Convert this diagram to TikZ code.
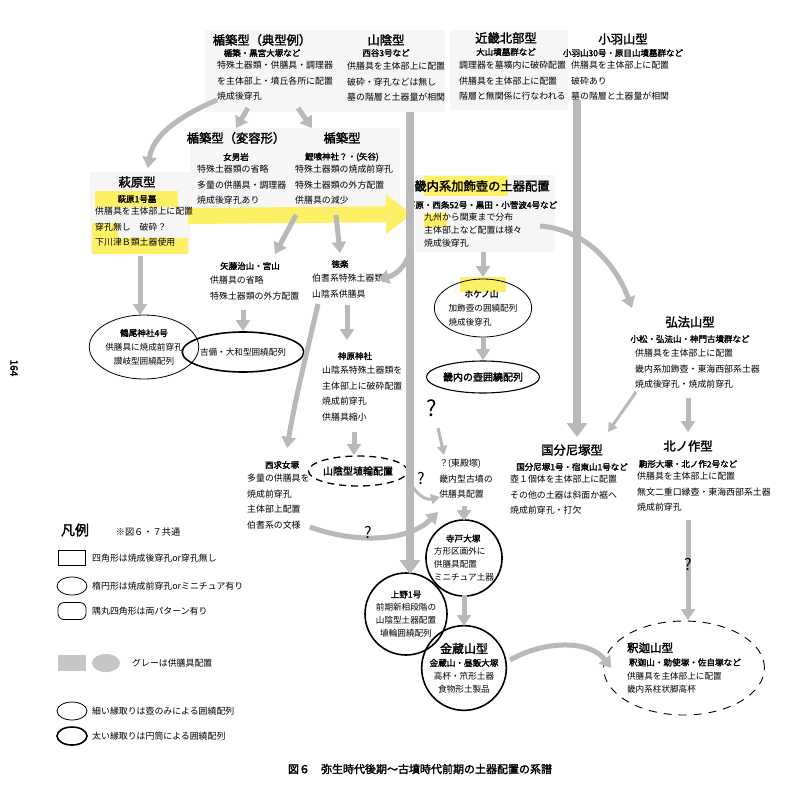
\documentclass[tikz,border=0pt]{standalone}
\usepackage{fontspec}
\setmainfont[AutoFakeBold=2]{Noto Sans CJK JP}
\usetikzlibrary{arrows.meta,shapes.geometric}
\tikzset{
 body/.style={anchor=north west,align=left,inner sep=0pt,font=\fontsize{8.9}{15.5}\selectfont},
 ttl/.style={inner sep=0pt,font=\fontsize{12.3}{13}\selectfont\bfseries},
 sub/.style={inner sep=0pt,font=\fontsize{8.5}{10}\selectfont\bfseries},
 garr/.style={draw=gray!55,line width=5pt,-{Triangle[width=14pt,length=11pt]}},
 tarr/.style={draw=gray!55,line width=3pt,-{Triangle[width=10pt,length=9pt]}},
 bar/.style={draw=gray!55,line width=8pt,-{Triangle[width=20pt,length=14pt]}},
 thinell/.style={draw,ellipse,line width=0.8pt,inner sep=0pt},
 thickell/.style={draw,ellipse,line width=1.6pt,inner sep=0pt},
 shade/.style={fill=gray!7,draw=none},
 hl/.style={fill=yellow!90!orange!60,draw=none},
 qm/.style={font=\fontsize{16}{16}\selectfont},
 inn/.style={font=\fontsize{8.6}{14}\selectfont}
}
\begin{document}
\begin{tikzpicture}[x=1pt,y=-1pt]
\useasboundingbox (0,0) rectangle (785,785);
\fill[white] (0,0) rectangle (785,785);
% grey backgrounds
\fill[shade] (205,30) rectangle (345,112);
\fill[shade] (340,30) rectangle (445,112);
\fill[shade] (450,30) rectangle (568,110);
\fill[shade] (190,128) rectangle (290,212);
\fill[shade] (290,128) rectangle (400,212);
\fill[shade] (415,175) rectangle (555,252);
\fill[shade] (90,172) rectangle (190,252);
% yellow highlights
\fill[hl] (95,191) rectangle (178,207);
\fill[hl] (92,238) rectangle (188,254);
\fill[hl] (92,223) rectangle (118,238);
\fill[hl] (424,176) rectangle (508,196);
\fill[hl] (424,213) rectangle (447,227);
\fill[hl] (460,277) rectangle (506,292);
\draw[line width=16pt,draw=yellow!90!orange!60,-{Triangle[width=38pt,length=26pt]}] (188,216) -- (412,214);
\coordinate (sbtop) at (410,112);
\coordinate (kbtop) at (577,100);
% text blocks
\node[ttl] (tt1) at (262,40) {楯築型（典型例）};
\node[sub] (ts1) at (262,53) {楯築・黒宮大塚など};
\node[body] (tb1) at (217,61) {特殊土器類・供膳具・調理器\\を主体部上・墳丘各所に配置\\焼成後穿孔};
\node[ttl] (tt2) at (386,40) {山陰型};
\node[sub] (ts2) at (386,53) {西谷3号など};
\node[body] (tb2) at (347,62) {供膳具を主体部上に配置\\破砕・穿孔などは無し\\墓の階層と土器量が相関};
\node[ttl] (tt3) at (506,38) {近畿北部型};
\node[sub] (ts3) at (506,52) {大山墳墓群など};
\node[body] (tb3) at (459,61) {調理器を墓壙内に破砕配置\\供膳具を主体部上に配置\\階層と無関係に行なわれる};
\node[ttl] (tt4) at (623,39) {小羽山型};
\node[sub] (ts4) at (623,53) {小羽山30号・原目山墳墓群など};
\node[body] (tb4) at (571,61) {供膳具を主体部上に配置\\破砕あり\\墓の階層と土器量が相関};
\node[ttl] (tt5) at (236,138) {楯築型（変容形）};
\node[sub] (ts5) at (236,157) {女男岩};
\node[body] (tb5) at (197,165) {特殊土器類の省略\\多量の供膳具・調理器\\焼成後穿孔あり};
\node[ttl] (tt6) at (342,138) {楯築型};
\node[sub] (ts6) at (342,157) {鯉喰神社？・(矢谷)};
\node[body] (tb6) at (295,165) {特殊土器類の焼成前穿孔\\特殊土器類の外方配置\\供膳具の減少};
\node[ttl] (tt7) at (137,182) {萩原型};
\node[sub] (ts7) at (137,199) {萩原1号墓};
\node[body] (tb7) at (95,207) {供膳具を主体部上に配置\\穿孔無し　破砕？\\下川津Ｂ類土器使用};
\node[ttl] (tt8) at (482,186) {畿内系加飾壺の土器配置};
\node[sub] (ts8) at (482,205) {下原・西条52号・黒田・小菅波4号など};
\node[body,font=\fontsize{8.9}{13}\selectfont] (tb8) at (424,213) {九州から関東まで分布\\主体部上など配置は様々\\焼成後穿孔};
\node[sub] (ts9) at (250,266) {矢藤治山・宮山};
\node[body] (tb9) at (210,276) {供膳具の省略\\特殊土器類の外方配置};
\node[sub] (ts10) at (340,264) {徳楽};
\node[body] (tb10) at (312,274) {伯耆系特殊土器類\\山陰系供膳具};
\node[sub] (ts11) at (355,356) {神原神社};
\node[body] (tb11) at (322,366) {山陰系特殊土器類を\\主体部上に破砕配置\\焼成前穿孔\\供膳具縮小};
\node[sub] (ts12) at (282,465) {西求女塚};
\node[body] (tb12) at (247,474) {多量の供膳具を\\焼成前穿孔\\主体部上配置\\伯耆系の文様};
\node[body,anchor=north,align=left] (tb13) at (466,459) {？(東殿塚)\\畿内型古墳の\\供膳具配置};
\node[ttl] (tt14) at (690,322) {弘法山型};
\node[sub] (ts14) at (690,339) {小松・弘法山・神門古墳群など};
\node[body] (tb14) at (635,349) {供膳具を主体部上に配置\\畿内系加飾壺・東海西部系土器\\焼成後穿孔・焼成前穿孔};
\node[ttl] (tt15) at (572,450) {国分尼塚型};
\node[sub] (ts15) at (572,467) {国分尼塚1号・宿東山1号など};
\node[body] (tb15) at (510,475) {壺１個体を主体部上に配置\\その他の土器は斜面か裾へ\\焼成前穿孔・打欠};
\node[ttl] (tt16) at (688,446) {北ノ作型};
\node[sub] (ts16) at (688,464) {駒形大塚・北ノ作2号など};
\node[body] (tb16) at (637,472) {供膳具を主体部上に配置\\無文二重口縁壺・東海西部系土器\\焼成前穿孔};
% ellipses
\node[thinell,minimum width=98pt,minimum height=64pt,align=center,inn] (e1) at (144,347) {\textbf{鶴尾神社4号}\\供膳具に焼成前穿孔\\讃岐型囲繞配列};
\node[thickell,minimum width=98pt,minimum height=40pt,inn] (e2) at (243,352) {吉備・大和型囲繞配列};
\node[thinell,minimum width=84pt,minimum height=58pt,align=left,inn] (e3) at (483,308) {\hspace*{16pt}\textbf{ホケノ山}\\加飾壺の囲繞配列\\焼成後穿孔};
\node[thinell,line width=1.1pt,minimum width=80pt,minimum height=32pt,inn,font=\bfseries] (e4) at (483,377) {畿内の壺囲繞配列};
\node[thinell,line width=1.3pt,dash pattern=on 7pt off 5pt,minimum width=70pt,minimum height=30pt,inn,font=\bfseries] (e5) at (358,471) {山陰型埴輪配置};
\node[draw,circle,line width=1.6pt,minimum size=74pt,inner sep=0pt,align=left,font=\fontsize{8.6}{13}\selectfont] (c1) at (464,558) {\hspace*{12pt}\textbf{寺戸大塚}\\方形区画外に\\供膳具配置\\ミニチュア土器};
\node[draw,circle,line width=1.6pt,minimum size=82pt,inner sep=0pt,align=center,font=\fontsize{8.6}{13}\selectfont] (c2) at (406,614) {\textbf{上野1号}\\前期新相段階の\\山陰型土器配置\\埴輪囲繞配列};
\node[draw,circle,line width=1.6pt,minimum size=84pt,inner sep=0pt,align=center,font=\fontsize{8.6}{13}\selectfont] (c3) at (464,668) {{\fontsize{12}{13}\selectfont\bfseries 金蔵山型}\\\textbf{金蔵山・昼飯大塚}\\高杯・笊形土器\\食物形土製品};
\node[draw,ellipse,line width=0.9pt,dash pattern=on 8pt off 7pt,minimum width=144pt,minimum height=94pt,align=left,inner sep=0pt,font=\fontsize{8.6}{13.5}\selectfont] (e6) at (684,668) {{\fontsize{11.5}{13}\selectfont\bfseries 釈迦山型}\\\textbf{ 釈迦山・勅使塚・佐自塚など}\\供膳具を主体部上に配置\\畿内系柱状脚高杯};
% arrows
\draw[bar] (sbtop) -- (410,574);
\draw[bar] (kbtop) -- (577,437);
\draw[garr] (217,100) .. controls (170,120) and (152,140) .. (148,168);
\draw[garr] (248,108) -- (236,128);
\draw[garr] (298,108) -- (312,128);
\draw[garr] (140,256) -- (140,315);
\draw[garr] (296,215) -- (275,254);
\draw[garr] (336,215) -- (340,253);
\draw[garr] (243,310) -- (243,331);
\draw[garr] (347,305) -- (347,340);
\draw[garr] (318,304) .. controls (305,360) and (295,400) .. (287,448);
\draw[garr] (354,432) -- (354,455);
\draw[garr] (410,252) .. controls (405,268) and (395,275) .. (378,280);
\draw[tarr] (412,486) .. controls (420,498) and (428,500) .. (440,497);
\draw[garr] (310,527) .. controls (360,545) and (410,540) .. (438,512);
\draw[tarr] (438,428) -- (444,455);
\draw[garr] (483,252) -- (483,277);
\draw[garr] (483,338) -- (483,360);
\draw[garr] (540,226) .. controls (590,230) and (618,270) .. (632,308);
\draw[tarr] (636,392) -- (608,432);
\draw[garr] (688,398) -- (688,432);
\draw[garr] (688,520) -- (688,620);
\draw[garr] (464,506) -- (464,521);
\draw[garr] (464,595) -- (464,626);
\draw[garr] (510,660) .. controls (545,640) and (590,640) .. (611,668);
% question marks
\node[qm,font=\fontsize{22}{22}\selectfont] (q1) at (432,408) {?};
\node[qm] (q2) at (421,479) {?};
\node[qm] (q3) at (368,532) {?};
\node[qm] (q4) at (688,564) {?};
% legend
\node[font=\fontsize{14}{14}\selectfont\bfseries,inner sep=0pt] (lg) at (75,530) {凡例};
\node[font=\fontsize{9.2}{10}\selectfont,inner sep=0pt] (lgn) at (148,532) {※図６・７共通};
\node[draw,line width=0.8pt,minimum width=27pt,minimum height=15pt,inner sep=0pt] (l1) at (72,558) {};
\node[thinell,minimum width=30pt,minimum height=18pt] (l2) at (72,586) {};
\node[draw,rounded corners=6pt,line width=0.8pt,minimum width=28pt,minimum height=17pt,inner sep=0pt] (l3) at (72,611) {};
\node[fill=gray!45,minimum width=28pt,minimum height=16pt,inner sep=0pt] (l4) at (72,663) {};
\node[fill=gray!45,ellipse,minimum width=28pt,minimum height=18pt,inner sep=0pt] (l5) at (106,663) {};
\node[thinell,minimum width=30pt,minimum height=18pt] (l6) at (72,711) {};
\node[thickell,minimum width=30pt,minimum height=18pt] (l7) at (72,736) {};
\tikzset{lt/.style={anchor=west,inner sep=0pt,font=\fontsize{8.9}{10}\selectfont}}
\node[lt] (lt1) at (92,558) {四角形は焼成後穿孔or穿孔無し};
\node[lt] (lt2) at (92,586) {楕円形は焼成前穿孔orミニチュア有り};
\node[lt] (lt3) at (92,611) {隅丸四角形は両パターン有り};
\node[lt] (lt4) at (132,663) {グレーは供膳具配置};
\node[lt] (lt6) at (92,711) {細い縁取りは壺のみによる囲繞配列};
\node[lt] (lt7) at (92,736) {太い縁取りは円筒による囲繞配列};
\node[inner sep=0pt,font=\fontsize{11}{12}\selectfont\bfseries] (cap) at (420,769) {図６　弥生時代後期～古墳時代前期の土器配置の系譜};
\node[rotate=-90,inner sep=0pt,font=\fontsize{10}{10}\selectfont\bfseries] (pg) at (14,368) {164};
\end{tikzpicture}
\end{document}
